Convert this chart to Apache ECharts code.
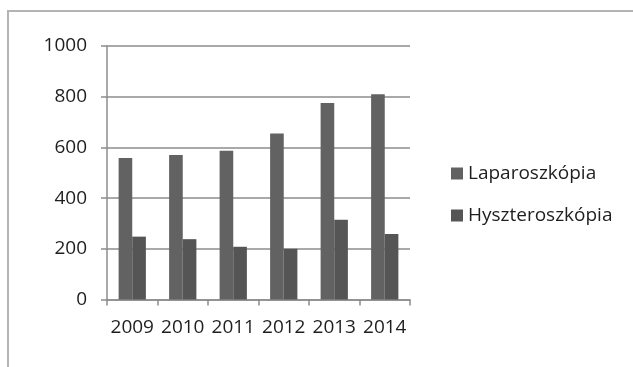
<!DOCTYPE html>
<html>
<head>
<meta charset="utf-8">
<script src="https://cdn.jsdelivr.net/npm/echarts@6/dist/echarts.min.js"></script>
<style>
  html, body { margin: 0; padding: 0; background: #fff; }
  #wrap { position: relative; width: 633px; height: 367px; overflow: hidden; }
  #frame {
    position: absolute; left: 7px; top: 10px; width: 700px; height: 400px;
    border-left: 2px solid #b4b4b4; border-top: 2px solid #b4b4b4;
  }
  #chart { position: absolute; left: 0; top: 0; width: 633px; height: 367px; }
</style>
</head>
<body>
<div id="wrap">
  <div id="frame"></div>
  <div id="chart"></div>
</div>
<script>
// values
const years = ['2009', '2010', '2011', '2012', '2013', '2014']
const laparoszkopia = [558, 570, 587, 655, 775, 810]
const hiszteroszkopia = [248, 238, 208, 200, 315, 258]
const seriesNames = ['Laparoszkópia', 'Hyszteroszkópia']

const fontFamily = '"Open Sans", sans-serif'
const myChart = echarts.init(document.getElementById('chart'), null, { renderer: 'canvas' })

const chartOption = {
  animation: false,
  textStyle: { fontFamily: fontFamily },
  color: ['#626262', '#555555'],
  grid: {
    left: 107,
    right: 223,
    top: 46,
    bottom: 67.5
  },
  legend: {
    orient: 'vertical',
    left: 446,
    top: 159,
    itemWidth: 12,
    itemHeight: 12,
    itemGap: 23,
    icon: 'rect',
    data: seriesNames,
    textStyle: {
      fontSize: 19,
      color: '#1e1e1e',
      fontFamily: fontFamily
    }
  },
  xAxis: {
    type: 'category',
    data: years,
    axisLine: { lineStyle: { color: '#8c8c8c', width: 1.5 } },
    axisTick: { show: true, length: 6, lineStyle: { color: '#8c8c8c', width: 1.5 } },
    axisLabel: {
      interval: 0,
      hideOverlap: false,
      color: '#1e1e1e',
      fontSize: 19,
      margin: 19,
      fontFamily: fontFamily
    }
  },
  yAxis: {
    type: 'value',
    min: 0,
    max: 1000,
    interval: 200,
    axisLine: { show: true, lineStyle: { color: '#8c8c8c', width: 1.5 } },
    axisTick: { show: true, length: 6, lineStyle: { color: '#8c8c8c', width: 1.5 } },
    axisLabel: {
      color: '#1e1e1e',
      fontSize: 19,
      margin: 20,
      fontFamily: fontFamily,
      formatter: function (value) {
        return String(value)
      }
    },
    splitLine: { lineStyle: { color: '#8c8c8c', width: 1.5 } }
  },
  series: [
    {
      name: seriesNames[0],
      type: 'bar',
      barWidth: '27%',
      barGap: '0%',
      data: laparoszkopia
    },
    {
      name: seriesNames[1],
      type: 'bar',
      barWidth: '27%',
      barGap: '0%',
      data: hiszteroszkopia
    }
  ]
}

myChart.setOption(chartOption)
</script>
</body>
</html>
